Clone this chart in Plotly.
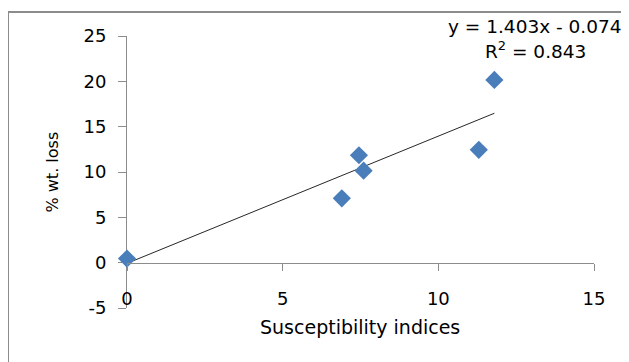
import plotly.graph_objects as go

# Data
susceptibility = [0.0, 6.9, 7.45, 7.6, 11.3, 11.8]
wt_loss = [0.45, 7.1, 11.85, 10.15, 12.45, 20.15]

# Linear trendline coefficients as printed on the chart
slope = 1.403
intercept = -0.074
r_squared = 0.843

x_ticks = [0, 5, 10, 15]
y_ticks = [-5, 0, 5, 10, 15, 20, 25]
y_tick_text = ["-5", "0", "5", "10", "15", "20", "25"]

trend_x = [min(susceptibility), max(susceptibility)]
trend_y = [slope * v + intercept for v in trend_x]

FONT = "DejaVu Sans"
AXIS_GRAY = "#8c8c8c"

fig = go.Figure()
fig.add_trace(go.Scatter(
    x=trend_x, y=trend_y, mode="lines",
    line=dict(color="#262626", width=1), showlegend=False, hoverinfo="skip",
))
fig.add_trace(go.Scatter(
    x=susceptibility, y=wt_loss, mode="markers",
    marker=dict(symbol="diamond", size=14, color="#4a7ebb"),
    cliponaxis=False, showlegend=False,
))
# invisible trace on xaxis2 so the zero-line axis renders
fig.add_trace(go.Scatter(x=[x_ticks[0]], y=[0], xaxis="x2", mode="markers",
                         marker=dict(opacity=0), showlegend=False, hoverinfo="skip"))

fig.update_layout(
    width=629, height=362,
    margin=dict(l=119, r=43, t=28, b=62),
    paper_bgcolor="white", plot_bgcolor="white",
    font=dict(family=FONT, size=18, color="#000000"),
    xaxis=dict(
        range=[x_ticks[0], x_ticks[-1]], tickvals=x_ticks, showgrid=False,
        zeroline=False, showline=False, ticks="", showticklabels=False,
    ),
    xaxis2=dict(
        range=[x_ticks[0], x_ticks[-1]], tickvals=x_ticks, overlaying="x",
        anchor="free", position=5 / 30, side="bottom",
        showgrid=False, zeroline=False, showline=True, linecolor=AXIS_GRAY, linewidth=1,
        ticks="outside", ticklen=7, tickcolor=AXIS_GRAY,
        showticklabels=True, ticklabelstandoff=13,
        tickfont=dict(family=FONT, size=18, color="#000000"),
    ),
    yaxis=dict(
        range=[y_ticks[0], y_ticks[-1]], tickvals=y_ticks, ticktext=y_tick_text,
        showgrid=False, zeroline=False, showline=True, linecolor=AXIS_GRAY, linewidth=1,
        ticks="outside", ticklen=8, tickcolor=AXIS_GRAY, ticklabelstandoff=8,
        tickfont=dict(family=FONT, size=18, color="#000000"),
        layer="below traces",
    ),
    shapes=[dict(
        type="rect", xref="paper", yref="paper",
        x0=(8 - 127) / 467, x1=1.15, y0=-0.3, y1=(308 - 12) / 272,
        line=dict(color=AXIS_GRAY, width=2), layer="below",
    )],
    annotations=[
        dict(text=f"y = {slope}x - {abs(intercept)}", xref="paper", yref="paper",
             x=(535 - 127) / 467, y=(308 - 27) / 272, showarrow=False,
             xanchor="center", yanchor="middle", font=dict(size=18.5)),
        dict(text=f"R<sup>2</sup> = {r_squared}", xref="paper", yref="paper",
             x=(535 - 127) / 467, y=(308 - 50) / 272, showarrow=False,
             xanchor="center", yanchor="middle", font=dict(size=18.5)),
        dict(text="Susceptibility indices", xref="paper", yref="paper",
             x=(360 - 127) / 467, y=(308 - 327) / 272, showarrow=False,
             xanchor="center", yanchor="middle", font=dict(size=19)),
        dict(text="% wt. loss", xref="paper", yref="paper", textangle=-90,
             x=(52 - 127) / 467, y=(308 - 172.5) / 272, showarrow=False,
             xanchor="center", yanchor="middle", font=dict(size=16)),
    ],
)

fig.write_html("out.html")
